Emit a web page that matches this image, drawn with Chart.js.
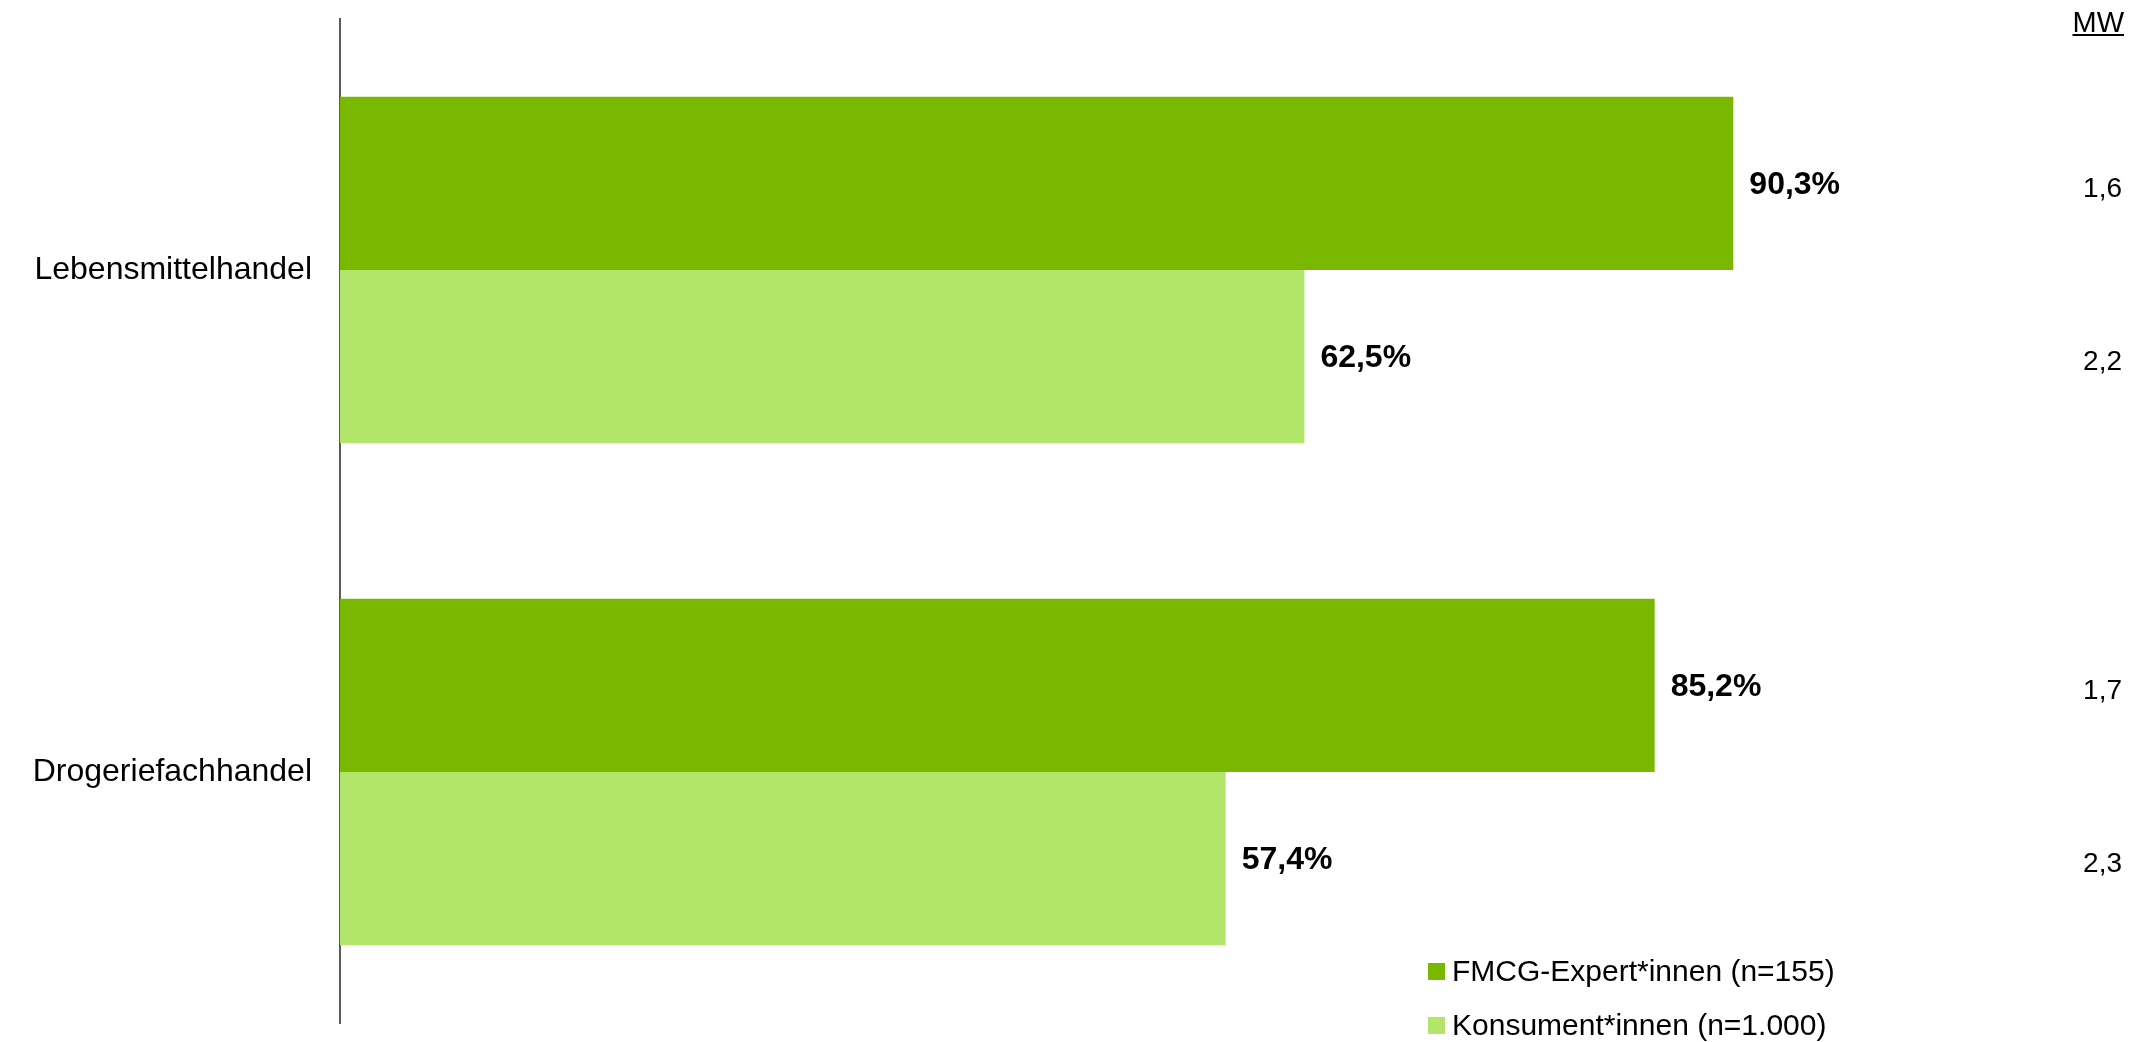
<!DOCTYPE html>
<html>
<head>
<meta charset="utf-8">
<script src="https://cdn.jsdelivr.net/npm/chart.js@4/dist/chart.umd.min.js"></script>
<style>
  html, body { margin: 0; padding: 0; background: #fff; }
  #wrap { position: relative; width: 2139px; height: 1042px; }
</style>
</head>
<body>
<div id="wrap"><canvas id="c"></canvas></div>
<script>
const categories = ['Lebensmittelhandel', 'Drogeriefachhandel'];
const seriesLabels = ['FMCG-Expert*innen (n=155)', 'Konsument*innen (n=1.000)'];
const expertValues = [90.3, 85.2];
const consumerValues = [62.5, 57.4];
const expertMW = ['1,6', '1,7'];
const consumerMW = ['2,2', '2,3'];
const mwHeader = 'MW';

const seriesColors = ['#7AB800', '#B2E66B'];
const FONT = '"Liberation Sans", Arial, Helvetica, sans-serif';

function fmt(v) { return v.toFixed(1).replace('.', ',') + '%'; }

const overlay = {
  id: 'overlay',
  afterDatasetsDraw(chart) {
    const ctx = chart.ctx;
    const mwSets = [expertMW, consumerMW];
    ctx.save();
    chart.data.datasets.forEach((ds, di) => {
      const meta = chart.getDatasetMeta(di);
      meta.data.forEach((el, i) => {
        ctx.font = 'bold 32px ' + FONT;
        ctx.fillStyle = '#000';
        ctx.textAlign = 'left';
        ctx.textBaseline = 'middle';
        ctx.fillText(fmt(ds.data[i]), el.x + 16, el.y + 2);
        ctx.font = '28px ' + FONT;
        ctx.textAlign = 'right';
        ctx.fillText(mwSets[di][i], 2122, el.y + 6);
      });
    });
    ctx.font = '29px ' + FONT;
    ctx.textAlign = 'right';
    ctx.textBaseline = 'alphabetic';
    ctx.fillStyle = '#000';
    ctx.fillText(mwHeader, 2124, 32);
    const w = ctx.measureText(mwHeader).width;
    ctx.fillRect(2124 - w, 34, w, 2);
    ctx.textAlign = 'left';
    ctx.textBaseline = 'middle';
    ctx.font = '30px ' + FONT;
    chart.data.datasets.forEach((ds, di) => {
      const cy = 972 + di * 54;
      ctx.fillStyle = ds.backgroundColor;
      ctx.fillRect(1428, cy - 9, 17, 17);
      ctx.fillStyle = '#000';
      ctx.fillText(ds.label, 1452, cy + 1);
    });
    ctx.restore();
  }
};

new Chart(document.getElementById('c'), {
  type: 'bar',
  data: {
    labels: categories,
    datasets: [
      { label: seriesLabels[0], data: expertValues, backgroundColor: seriesColors[0] },
      { label: seriesLabels[1], data: consumerValues, backgroundColor: seriesColors[1] }
    ]
  },
  options: {
    indexAxis: 'y',
    responsive: true,
    maintainAspectRatio: false,
    animation: false,
    layout: { padding: { left: 0, top: 19, bottom: 19, right: 256 } },
    datasets: { bar: { categoryPercentage: 0.69, barPercentage: 1.0 } },
    plugins: { legend: { display: false }, tooltip: { enabled: false } },
    scales: {
      x: { display: false, min: 0, max: 100 },
      y: {
        afterFit(scale) { scale.width = 340; scale.paddingTop = 0; scale.paddingBottom = 0; },
        grid: { display: true, drawOnChartArea: false, drawTicks: false, color: 'rgba(0,0,0,0)' },
        border: { display: true, color: '#595959', width: 2 },
        ticks: { color: '#000', padding: 28, font: { family: FONT, size: 32 } }
      }
    }
  },
  plugins: [overlay]
});
</script>
</body>
</html>
